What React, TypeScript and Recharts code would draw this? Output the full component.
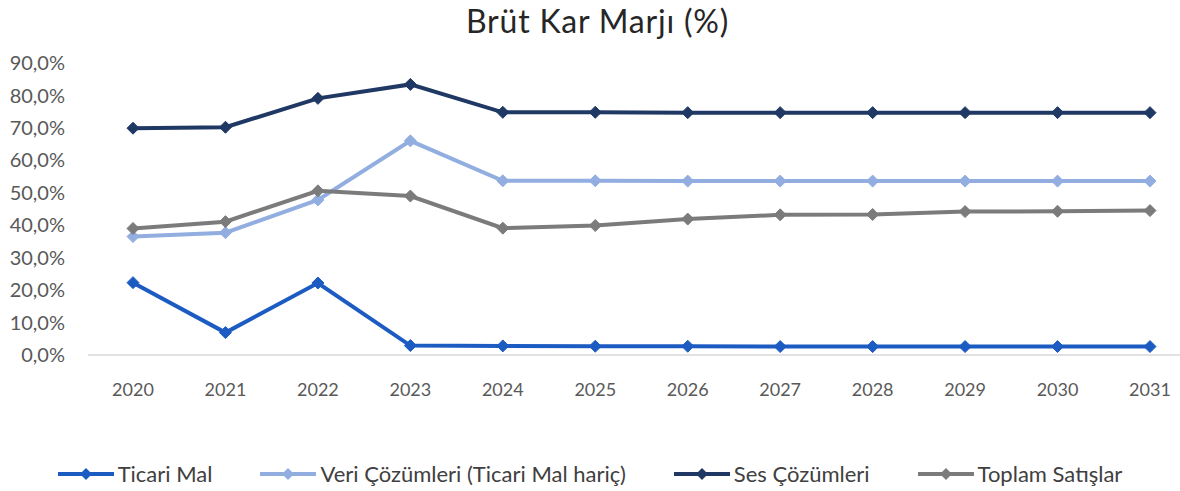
import { LineChart, Line, XAxis, YAxis, Legend } from 'recharts'

const YEARS = ['2020', '2021', '2022', '2023', '2024', '2025', '2026', '2027', '2028', '2029', '2030', '2031']
const TICARI_MAL = [22.3, 6.9, 22.2, 2.9, 2.8, 2.7, 2.7, 2.6, 2.6, 2.6, 2.6, 2.6]
const VERI_COZUMLERI = [36.5, 37.7, 47.8, 66.0, 53.7, 53.7, 53.6, 53.6, 53.6, 53.6, 53.6, 53.6]
const SES_COZUMLERI = [69.9, 70.2, 79.1, 83.4, 74.8, 74.8, 74.7, 74.7, 74.7, 74.7, 74.7, 74.7]
const TOPLAM_SATISLAR = [39.0, 41.1, 50.6, 49.0, 39.1, 39.9, 41.9, 43.2, 43.3, 44.2, 44.3, 44.5]
const Y_TICKS = [0, 10, 20, 30, 40, 50, 60, 70, 80, 90]

const SERIES = [
    { key: 'ticari', name: 'Ticari Mal', color: '#1c5cc2' },
    { key: 'veri', name: 'Veri Çözümleri (Ticari Mal hariç)', color: '#92aee0' },
    { key: 'ses', name: 'Ses Çözümleri', color: '#1f3864' },
    { key: 'toplam', name: 'Toplam Satışlar', color: '#7b7b7b' },
]

const data = YEARS.map((year, i) => ({
    year,
    ticari: TICARI_MAL[i],
    veri: VERI_COZUMLERI[i],
    ses: SES_COZUMLERI[i],
    toplam: TOPLAM_SATISLAR[i],
}))

const FONT = 'Lato, "Open Sans", sans-serif'

const fmt = (v: number) => `${v.toFixed(1).replace('.', ',')}%`

function diamond(color: string) {
    return (props: any) => {
        const { cx, cy, index } = props
        if (cx == null || cy == null) return <g key={index} />
        const r = 6
        return (
            <path
                key={index}
                d={`M${cx},${cy - r} L${cx + r},${cy} L${cx},${cy + r} L${cx - r},${cy} Z`}
                fill={color}
                stroke={color}
                strokeWidth={1}
            />
        )
    }
}

function LegendContent() {
    return (
        <div style={{ display: 'flex', justifyContent: 'center', gap: 48, fontFamily: FONT, fontSize: 22, color: '#404040' }}>
            {SERIES.map((s) => (
                <div key={s.key} style={{ display: 'flex', alignItems: 'center' }}>
                    <svg width={56} height={14} style={{ marginRight: 4 }}>
                        <line x1={0} y1={7} x2={56} y2={7} stroke={s.color} strokeWidth={4} />
                        <path d="M28,1 L34,7 L28,13 L22,7 Z" fill={s.color} />
                    </svg>
                    <span>{s.name}</span>
                </div>
            ))}
        </div>
    )
}

export default function App() {
    return (
        <div style={{ position: 'absolute', left: 0, top: 0, width: 1180, height: 491, background: '#fff' }}>
            <div
                style={{
                    position: 'absolute',
                    top: 1,
                    left: 0,
                    width: 1195,
                    textAlign: 'center',
                    fontFamily: FONT,
                    fontSize: 32,
                    letterSpacing: 0.8,
                    color: '#262626',
                }}>
                Brüt Kar Marjı (%)
            </div>
            <LineChart width={1180} height={491} data={data} margin={{ top: 63, right: 0, bottom: 46, left: 0 }}>
                <XAxis
                    dataKey="year"
                    padding={{ left: 45, right: 30 }}
                    tickLine={false}
                    axisLine={{ stroke: '#d9d9d9', strokeWidth: 1.5 }}
                    tick={{ fill: '#595959', fontSize: 18, fontFamily: FONT }}
                    tickMargin={22}
                    height={50}
                />
                <YAxis
                    domain={[0, 90]}
                    ticks={Y_TICKS}
                    tickFormatter={fmt}
                    axisLine={false}
                    tickLine={false}
                    tickSize={6}
                    tickMargin={17}
                    width={88}
                    tick={{ fill: '#595959', fontSize: 20, fontFamily: FONT }}
                    interval={0}
                />
                <Legend
                    content={<LegendContent />}
                    wrapperStyle={{ top: 460, left: 0, width: 1180 }}
                    height={40}
                />
                {SERIES.map((s) => (
                    <Line
                        key={s.key}
                        type="linear"
                        dataKey={s.key}
                        name={s.name}
                        stroke={s.color}
                        strokeWidth={4}
                        dot={diamond(s.color)}
                        activeDot={false}
                        isAnimationActive={false}
                    />
                ))}
            </LineChart>
        </div>
    )
}
